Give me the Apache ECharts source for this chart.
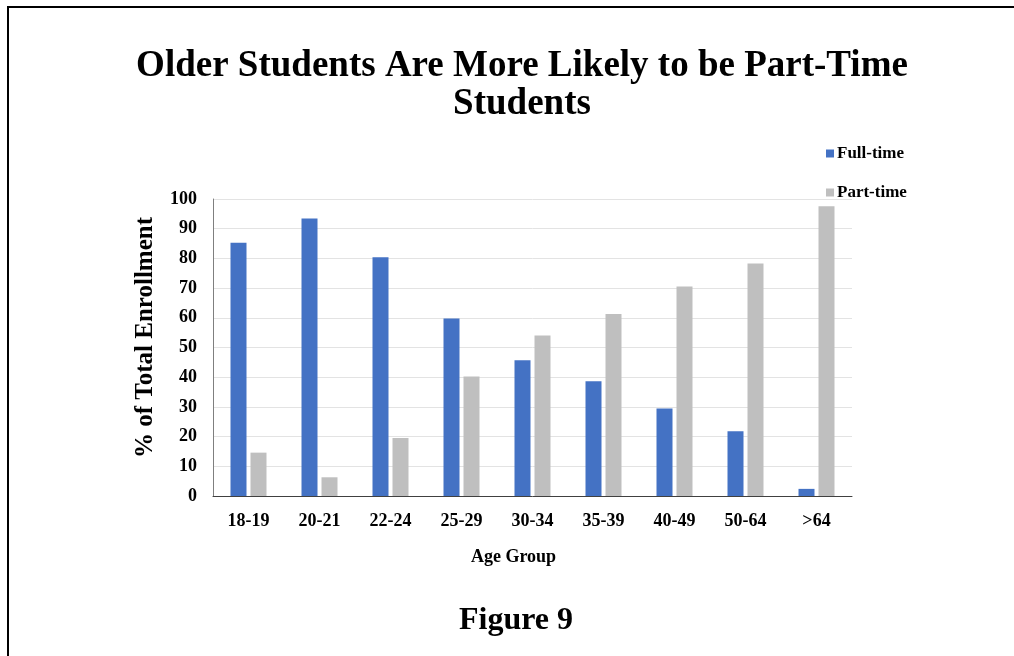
<!DOCTYPE html>
<html>
<head>
<meta charset="utf-8">
<script src="https://cdn.jsdelivr.net/npm/echarts@6/dist/echarts.min.js"></script>
<style>
  html, body { margin: 0; padding: 0; background: #fff; }
  #chart { width: 1014px; height: 656px; }
</style>
</head>
<body>
<div id="chart"></div>
<script>
// Enrollment share by age group
const categories = ['18-19', '20-21', '22-24', '25-29', '30-34', '35-39', '40-49', '50-64', '>64'];
const fullTime = [85.3, 93.4, 80.4, 59.8, 45.7, 38.6, 29.5, 21.8, 2.4];
const partTime = [14.6, 6.3, 19.5, 40.2, 54.0, 61.3, 70.5, 78.3, 97.6];
const yTicks = { min: 0, max: 100, interval: 10 };
const titleLines = ['Older Students Are More Likely to be Part-Time', 'Students'];
const figureLabel = 'Figure 9';

const serif = '"Liberation Serif", "Times New Roman", serif';

const chart = echarts.init(document.getElementById('chart'), null, { renderer: 'canvas' });
chart.setOption({
  backgroundColor: '#ffffff',
  animation: false,
  legend: {
    orient: 'vertical',
    left: 821, top: 140,
    itemWidth: 8, itemHeight: 8, itemGap: 22,
    icon: 'rect',
    textStyle: { fontFamily: serif, fontWeight: 'bold', fontSize: 17, color: '#000', padding: [0, 0, 0, -2] },
    data: ['Full-time', 'Part-time']
  },
  grid: { left: 213, right: 162, top: 199, bottom: 160, containLabel: false },
  xAxis: {
    type: 'category',
    data: categories,
    name: 'Age Group',
    nameLocation: 'middle',
    nameGap: 52,
    nameTextStyle: { fontFamily: serif, fontWeight: 'bold', fontSize: 18, color: '#000', padding: [0, 38, 0, 0] },
    axisLine: { lineStyle: { color: '#404040', width: 1 } },
    axisTick: { show: false },
    axisLabel: { fontFamily: serif, fontWeight: 'bold', fontSize: 18, color: '#000', margin: 16 }
  },
  yAxis: {
    type: 'value',
    min: yTicks.min, max: yTicks.max, interval: yTicks.interval,
    name: '% of Total Enrollment',
    nameLocation: 'middle',
    nameGap: 55,
    nameTextStyle: { fontFamily: serif, fontWeight: 'bold', fontSize: 25, color: '#000', padding: [0, 0, 0, 20] },
    axisLine: { show: true, lineStyle: { color: '#7f7f7f', width: 1 } },
    axisTick: { show: false },
    axisLabel: { fontFamily: serif, fontWeight: 'bold', fontSize: 18, color: '#000', margin: 16 },
    splitLine: { lineStyle: { color: '#e3e3e3', width: 1 } }
  },
  series: [
    {
      name: 'Full-time', type: 'bar', data: fullTime,
      barWidth: 16, barGap: '25%',
      itemStyle: { color: '#4472c4' }
    },
    {
      name: 'Part-time', type: 'bar', data: partTime,
      barWidth: 16,
      itemStyle: { color: '#bfbfbf' }
    }
  ],
  graphic: [
    // page frame (top and left rules)
    { type: 'line', shape: { x1: 8, y1: 7, x2: 1014, y2: 7 }, style: { stroke: '#000', lineWidth: 2 } },
    { type: 'line', shape: { x1: 8, y1: 6, x2: 8, y2: 656 }, style: { stroke: '#000', lineWidth: 2 } },
    // heading, two lines
    { type: 'text', x: 522, y: 66, style: { text: titleLines[0], font: 'bold 37px ' + serif, fill: '#000', textAlign: 'center', textVerticalAlign: 'middle' } },
    { type: 'text', x: 522, y: 104, style: { text: titleLines[1], font: 'bold 37px ' + serif, fill: '#000', textAlign: 'center', textVerticalAlign: 'middle' } },
    // figure caption
    { type: 'text', x: 516, y: 621, style: { text: figureLabel, font: 'bold 32px ' + serif, fill: '#000', textAlign: 'center', textVerticalAlign: 'middle' } }
  ]
});
</script>
</body>
</html>
